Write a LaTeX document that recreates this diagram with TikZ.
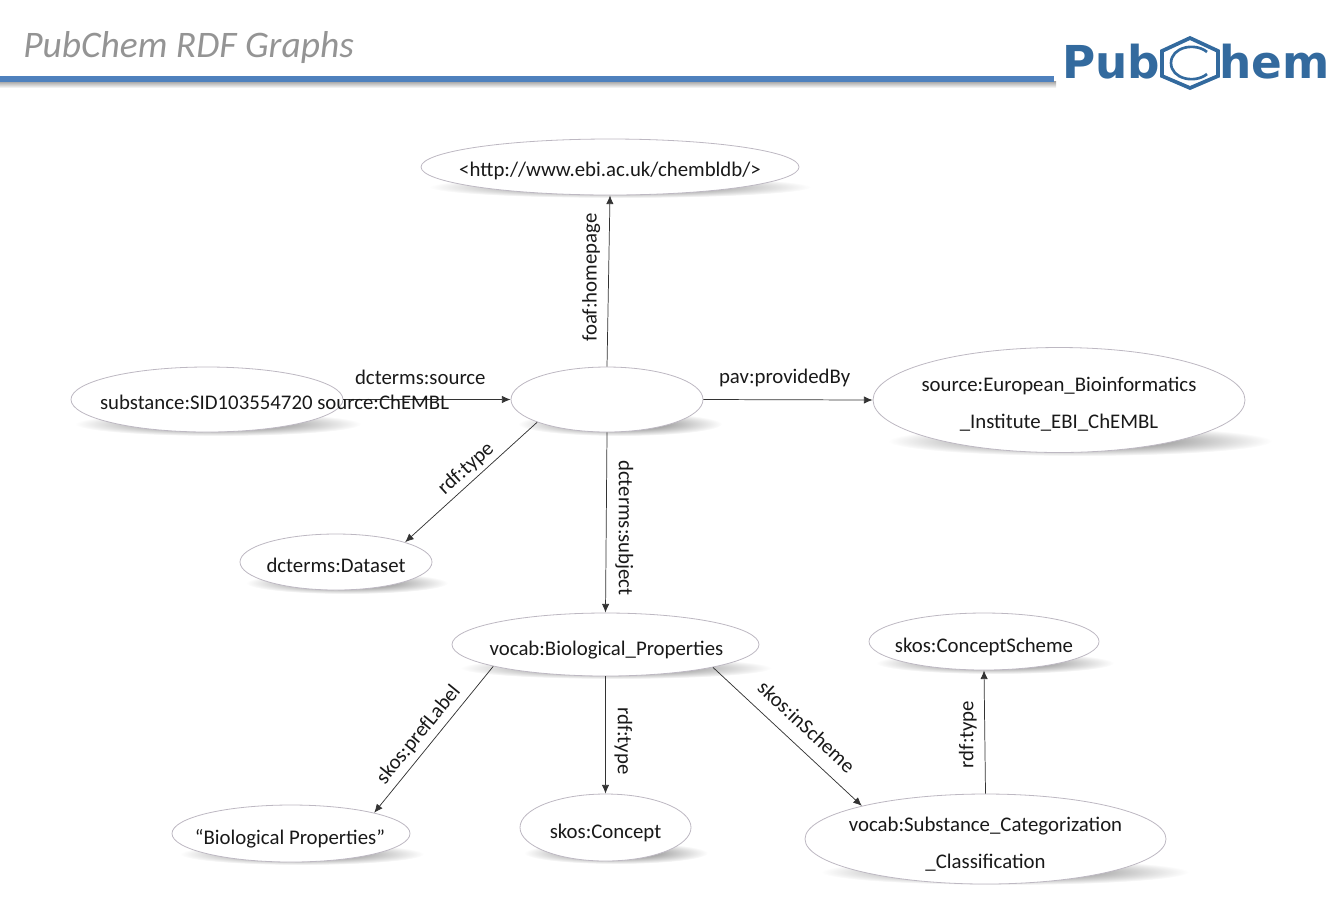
\documentclass[tikz,border=0pt]{standalone}
\usepackage{fontspec}
\setmainfont{Carlito}
\newfontfamily\logofont{DejaVu Sans}
\usetikzlibrary{arrows.meta}
\usetikzlibrary{shapes.geometric}
\definecolor{rulecolor}{HTML}{4F81BD}
\definecolor{logocolor}{HTML}{336A9E}
\definecolor{rimcolor}{HTML}{BDB8C2}
\tikzset{
      rdfnode/.style 2 args={ellipse, draw=rimcolor, fill=white, line width=0.6, inner sep=0,
            minimum width=#1*0.75pt, minimum height=#2*0.75pt},
      rdftext/.style={font=\fontsize{15.6}{27.75}\selectfont, align=center, text=black!90, inner sep=0},
      edgelabel/.style={font=\fontsize{15.6}{18}\selectfont, text=black!90, inner sep=2},
      rdfedge/.style={draw=black!80, line width=0.55, -{Latex[length=6.5pt,width=5.5pt]}},
      blob/.style={inner color=black!62, outer color=white},
      logotext/.style={font=\logofont\bfseries\fontsize{34}{36}\selectfont, text=logocolor, anchor=base west, inner sep=0},
}

\begin{document}
\begin{tikzpicture}[x=0.75pt, y=-0.75pt]
        \useasboundingbox (0,0) rectangle (1333,915);

        % Header
        \node[font=\fontsize{28.1}{30}\selectfont\itshape, text=black!42, anchor=base west, inner sep=0] (title) at (23,57) {PubChem RDF Graphs};
        \shade[top color=black!38, bottom color=white] (0,81) rectangle (1056,88);
        \fill[rulecolor] (0,76) rectangle (1054,82);

        % Logo
        \node[logotext] (logopub) at (1062,78) {Pub};
        \node[logotext] (logohem) at (1219,78) {hem};
        \draw[logocolor, line width=2.8] (1190,38) -- (1218,51) -- (1218,76) -- (1190,88) -- (1162,76) -- (1162,51) -- cycle;
        \draw[logocolor, line width=2] (1207,52) .. controls (1195,42) and (1171,47) .. (1171,63) .. controls (1171,79) and (1195,84) .. (1207,74);

        % Shadows
        \foreach \cx/\cy/\rx/\ry in {218/424/143/12, 620/424/102/12, 1080/441/192/15, 347/583/101/11,
                616/668/156/11, 995/663/119/11, 302/854/122/11, 616/853/92/11, 1005/872/184/13, 620/187/191/11}
            \shade[blob] (\cx,\cy) ellipse [x radius=\rx, y radius=\ry];

        % Nodes
        \node[rdfnode={378}{56}] (homepage) at (610,167) {};
        \node[rdftext] (homepagetext) at (610,171) {<http://www.ebi.ac.uk/chembldb/>};
        \node[rdfnode={272}{65}] (substance) at (207,399.5) {};
        \node[rdfnode={192}{65}] (hub) at (607,399.5) {};
        \node[rdfnode={372}{105}] (provider) at (1059,400) {};
        \node[rdftext] (providertext) at (1059,404) {source:European\_Bioinformatics\\\_Institute\_EBI\_ChEMBL};
        \node[rdfnode={192}{56}] (dataset) at (336,562) {};
        \node[rdftext] (datasettext) at (336,565.5) {dcterms:Dataset};
        \node[rdfnode={307}{63}] (bioprop) at (605.5,644.5) {};
        \node[rdftext] (biopropttext) at (606.5,650) {vocab:Biological\_Properties};
        \node[rdfnode={230}{57}] (scheme) at (984,641.5) {};
        \node[rdftext] (schemetext) at (984,647) {skos:ConceptScheme};
        \node[rdfnode={238}{57}] (preflabel) at (291,833.5) {};
        \node[rdftext] (preflabeltext) at (290,839) {“Biological Properties”};
        \node[rdfnode={171}{67}] (concept) at (605.5,827.5) {};
        \node[rdftext] (concepttext) at (605.5,833) {skos:Concept};
        \node[rdfnode={361}{90}] (categor) at (985.5,839) {};
        \node[rdftext] (categortext) at (985.5,844) {vocab:Substance\_Categorization\\\_Classification};

        % Edges
        \draw[rdfedge] (substance.east) -- node[edgelabel, pos=.46, yshift=16.5] {dcterms:source} (hub.west);
        \node[rdftext] (substancetext) at (274.5,402) {substance:SID103554720 source:ChEMBL};
        \draw[rdfedge] (hub.north) -- node[edgelabel, rotate=90, pos=.52, yshift=13] {foaf:homepage} (homepage.south);
        \draw[rdfedge] (hub.east) -- node[edgelabel, pos=.48, yshift=16] {pav:providedBy} (provider.west);
        \draw[rdfedge] (hub.198) -- node[edgelabel, sloped, above=1, pos=.47] {rdf:type} (dataset.16);
        \draw[rdfedge] (hub.south) -- node[edgelabel, rotate=-90, pos=.53, yshift=13.5] {dcterms:subject} (bioprop.north);
        \draw[rdfedge] (bioprop.191) -- node[edgelabel, sloped, above=2, pos=.53] {skos:prefLabel} (preflabel.14.5);
        \draw[rdfedge] (bioprop.south) -- node[edgelabel, rotate=-90, pos=.55, yshift=13.5] {rdf:type} (concept.north);
        \draw[rdfedge] (bioprop.348.8) -- node[edgelabel, sloped, above=7.5, pos=.536] {skos:inScheme} (categor.165.5);
        \draw[rdfedge] (categor.north) -- node[edgelabel, rotate=90, pos=.48, yshift=12.75] {rdf:type} (scheme.south);

\end{tikzpicture}
\end{document}
